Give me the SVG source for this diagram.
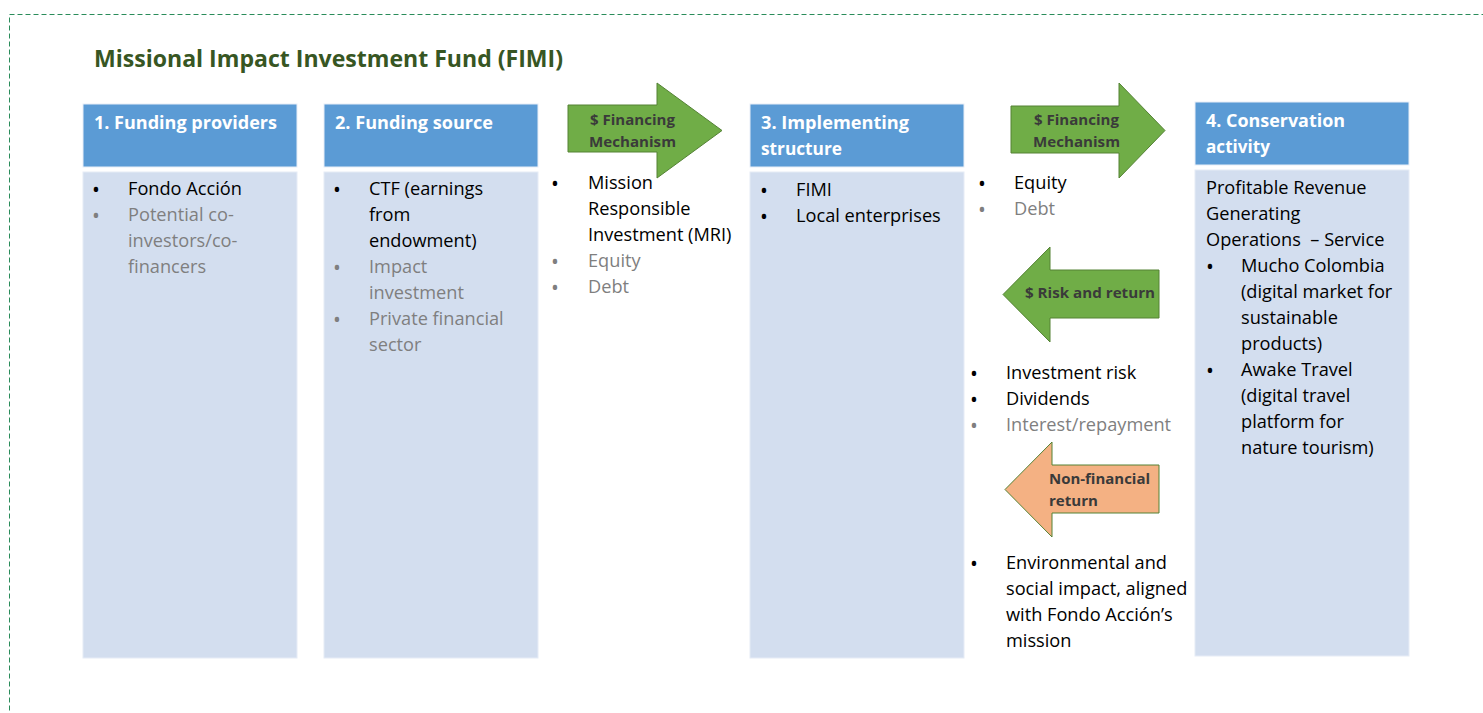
<svg xmlns="http://www.w3.org/2000/svg" width="1483" height="713" viewBox="0 0 1483 713">
<style>
.hdr{fill:#5b9bd5;stroke:#e8eef7;stroke-width:1}
.body{fill:#d3deef;stroke:#e6ecf6;stroke-width:1}
.ht{font-family:'Open Sans','Liberation Sans',sans-serif;font-weight:bold;font-size:18px;fill:#ffffff}
.t{font-family:'Open Sans','Liberation Sans',sans-serif;font-size:18.2px;fill:#000000}
.g{fill:#7f7f7f}
.b{font-family:'Open Sans','Liberation Sans',sans-serif;font-size:21px;fill:#000}
.bg{font-family:'Open Sans','Liberation Sans',sans-serif;font-size:21px;fill:#7f7f7f}
.al{font-family:'Open Sans','Liberation Sans',sans-serif;font-weight:bold;font-size:14.5px;fill:#3a3a3a}
.ga{fill:#70ad47;stroke:#548235;stroke-width:1}
.oa{fill:#f4b183;stroke:#548235;stroke-width:1}
</style>
<rect x="9.5" y="14.5" width="1500" height="720" fill="none" stroke="#2a8c5a" stroke-width="1" stroke-dasharray="5,3"/>
<text x="94" y="67" font-family="'Open Sans','Liberation Sans',sans-serif" font-weight="bold" font-size="24" fill="#375623" textLength="469" lengthAdjust="spacingAndGlyphs">Missional Impact Investment Fund (FIMI)</text>

<g id="col1">
<rect class="hdr" x="83" y="104" width="214" height="63"/>
<rect class="body" x="83" y="172" width="214" height="486"/>
<text class="ht" x="94" y="129" textLength="183" lengthAdjust="spacingAndGlyphs">1. Funding providers</text>
<text class="b" x="92" y="197">•</text><text class="t" x="128" y="195">Fondo Acción</text>
<text class="bg" x="92" y="223">•</text><text class="t g" x="128" y="221">Potential co-</text>
<text class="t g" x="128" y="247">investors/co-</text>
<text class="t g" x="128" y="273">financers</text>
</g>

<g id="col2">
<rect class="hdr" x="324" y="104" width="214" height="63"/>
<rect class="body" x="324" y="172" width="214" height="486"/>
<text class="ht" x="335" y="129" textLength="158" lengthAdjust="spacingAndGlyphs">2. Funding source</text>
<text class="b" x="333" y="197">•</text><text class="t" x="369" y="195">CTF (earnings</text>
<text class="t" x="369" y="221">from</text>
<text class="t" x="369" y="247">endowment)</text>
<text class="bg" x="333" y="275">•</text><text class="t g" x="369" y="273">Impact</text>
<text class="t g" x="369" y="299">investment</text>
<text class="bg" x="333" y="327">•</text><text class="t g" x="369" y="325">Private financial</text>
<text class="t g" x="369" y="351">sector</text>
</g>

<g id="col3">
<rect class="hdr" x="750" y="104" width="214" height="63"/>
<rect class="body" x="750" y="172" width="214" height="486"/>
<text class="ht" x="761" y="129" textLength="148" lengthAdjust="spacingAndGlyphs">3. Implementing</text>
<text class="ht" x="761" y="155" textLength="81" lengthAdjust="spacingAndGlyphs">structure</text>
<text class="b" x="760" y="198">•</text><text class="t" x="796" y="196">FIMI</text>
<text class="b" x="760" y="224">•</text><text class="t" x="796" y="222">Local enterprises</text>
</g>

<g id="col4">
<rect class="hdr" x="1195" y="102" width="214" height="63"/>
<rect class="body" x="1195" y="170" width="214" height="486"/>
<text class="ht" x="1206" y="127" textLength="139" lengthAdjust="spacingAndGlyphs">4. Conservation</text>
<text class="ht" x="1206" y="153" textLength="64" lengthAdjust="spacingAndGlyphs">activity</text>
<text class="t" x="1206" y="194">Profitable Revenue</text>
<text class="t" x="1206" y="220">Generating</text>
<text class="t" x="1206" y="246" xml:space="preserve">Operations  – Service</text>
<text class="b" x="1206" y="274">•</text><text class="t" x="1241" y="272">Mucho Colombia</text>
<text class="t" x="1241" y="298">(digital market for</text>
<text class="t" x="1241" y="324">sustainable</text>
<text class="t" x="1241" y="350">products)</text>
<text class="b" x="1206" y="378">•</text><text class="t" x="1241" y="376">Awake Travel</text>
<text class="t" x="1241" y="402">(digital travel</text>
<text class="t" x="1241" y="428">platform for</text>
<text class="t" x="1241" y="454">nature tourism)</text>
</g>

<g id="connectors">
<g id="arrow-financing-1">
<polygon class="ga" points="568,105 657,105 657,83 722,130.5 657,178 657,152 568,152"/>
<text class="al" x="590" y="125" textLength="85" lengthAdjust="spacingAndGlyphs">$ Financing</text>
<text class="al" x="589" y="147" textLength="87" lengthAdjust="spacingAndGlyphs">Mechanism</text>
</g>
<g id="arrow-financing-2">
<polygon class="ga" points="1011,106 1119,106 1119,83 1165,130.5 1119,178 1119,153 1011,153"/>
<text class="al" x="1034" y="125" textLength="85" lengthAdjust="spacingAndGlyphs">$ Financing</text>
<text class="al" x="1033" y="147" textLength="87" lengthAdjust="spacingAndGlyphs">Mechanism</text>
</g>
<g id="arrow-risk">
<polygon class="ga" points="1159,270 1050,270 1050,247 1003,294.5 1050,342 1050,318 1159,318"/>
<text class="al" x="1025" y="298" textLength="130" lengthAdjust="spacingAndGlyphs">$ Risk and return</text>
</g>
<g id="arrow-nonfinancial">
<polygon class="oa" points="1159,465 1052,465 1052,442 1005,489.5 1052,537 1052,513 1159,513"/>
<text class="al" x="1049" y="484" textLength="101" lengthAdjust="spacingAndGlyphs">Non-financial</text>
<text class="al" x="1049" y="506" textLength="49" lengthAdjust="spacingAndGlyphs">return</text>
</g>
</g>

<g id="labels-mid">
<text class="b" x="551" y="191">•</text><text class="t" x="588" y="189">Mission</text>
<text class="t" x="588" y="215">Responsible</text>
<text class="t" x="588" y="241">Investment (MRI)</text>
<text class="bg" x="551" y="269">•</text><text class="t g" x="588" y="267">Equity</text>
<text class="bg" x="551" y="295">•</text><text class="t g" x="588" y="293">Debt</text>
</g>

<g id="labels-right">
<text class="b" x="978" y="191">•</text><text class="t" x="1014" y="189">Equity</text>
<text class="bg" x="978" y="217">•</text><text class="t g" x="1014" y="215">Debt</text>
<text class="b" x="970" y="381">•</text><text class="t" x="1006" y="379">Investment risk</text>
<text class="b" x="970" y="407">•</text><text class="t" x="1006" y="405">Dividends</text>
<text class="bg" x="970" y="433">•</text><text class="t g" x="1006" y="431">Interest/repayment</text>
<text class="b" x="970" y="571">•</text><text class="t" x="1006" y="569">Environmental and</text>
<text class="t" x="1006" y="595">social impact, aligned</text>
<text class="t" x="1006" y="621">with Fondo Acción’s</text>
<text class="t" x="1006" y="647">mission</text>
</g>
</svg>
